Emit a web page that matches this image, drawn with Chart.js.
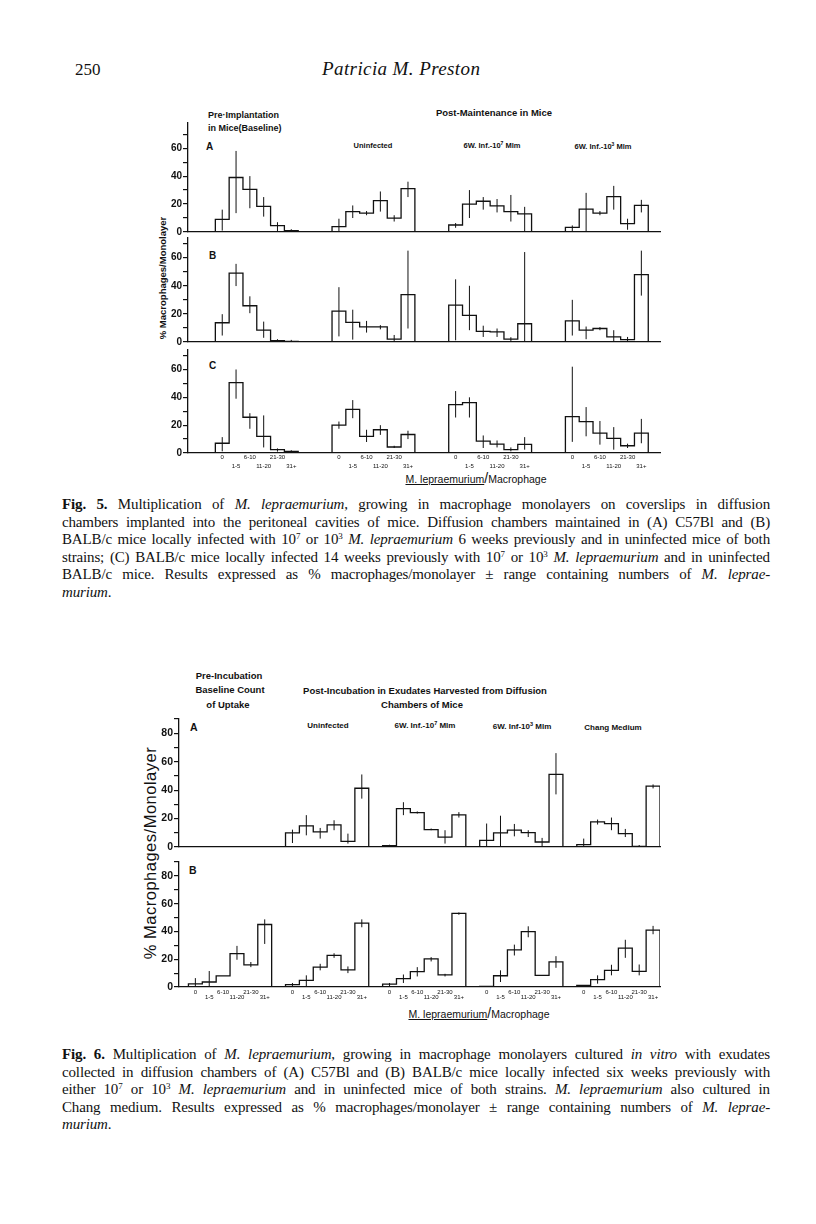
<!DOCTYPE html>
<html>
<head>
<meta charset="utf-8">
<script src="https://cdn.jsdelivr.net/npm/chart.js@4.4.0/dist/chart.umd.min.js"></script>
<style>
body { margin: 0; background: #fff; width: 816px; height: 1224px; position: relative; overflow: hidden;
       font-family: "Liberation Sans", Arial, sans-serif; color: #111; }
canvas { position: absolute; }
.t { position: absolute; white-space: nowrap; font-weight: bold; transform: translate(-50%, -50%); }
.l { position: absolute; white-space: nowrap; font-weight: bold; transform: translateY(-50%); }
.ytitle { position: absolute; white-space: nowrap; font-weight: bold; transform: translate(-50%, -50%) rotate(-90deg); }
.head { position: absolute; font-family: "Liberation Serif", "Times New Roman", serif; transform: translateY(-50%); white-space: nowrap; }
.cap { position: absolute; left: 62px; width: 708px; font-family: "Liberation Serif", "Times New Roman", serif;
       font-size: 15px; letter-spacing: -0.15px; line-height: 17.5px; color: #111; }
.cap div { text-align: justify; text-align-last: justify; }
.cap div.last { text-align-last: left; }
sup { font-size: 9px; line-height: 0; vertical-align: 5px; }
.xt { position: absolute; white-space: nowrap; transform: translate(-50%, -50%); font-size: 10.5px; }
</style>
</head>
<body>

<div class="head" style="left:75px;top:70px;font-size:17px;">250</div>
<div class="head" style="left:322px;top:69px;font-size:19px;font-style:italic;letter-spacing:0.4px;">Patricia M. Preston</div>

<!-- Fig. 5 headings -->
<div class="l" style="left:208px;top:115px;font-size:9px;">Pre·Implantation</div>
<div class="l" style="left:208px;top:128px;font-size:9px;">in Mice(Baseline)</div>
<div class="t" style="left:494px;top:112px;font-size:9.5px;">Post-Maintenance in Mice</div>
<div class="t" style="left:373px;top:145px;font-size:7.5px;">Uninfected</div>
<div class="t" style="left:492px;top:145px;font-size:7.5px;">6W. Inf.-10<sup style="font-size:5px;vertical-align:3px">7</sup> Mlm</div>
<div class="t" style="left:603px;top:146px;font-size:7.5px;">6W. Inf.-10<sup style="font-size:5px;vertical-align:3px">3</sup> Mlm</div>
<div class="l" style="left:206px;top:146px;font-size:10px;">A</div>
<div class="l" style="left:209px;top:255px;font-size:10px;">B</div>
<div class="l" style="left:209px;top:365px;font-size:10px;">C</div>
<div class="ytitle" style="left:162px;top:278px;font-size:9.5px;">% Macrophages/Monolayer</div>
<div class="xt" style="left:476px;top:478px;"><u>M. lepraemurium</u><span style="font-size:14px;">/</span>Macrophage</div>

<div class="cap" style="top:496px;">
<div><b>Fig. 5.</b> Multiplication of <i>M. lepraemurium</i>, growing in macrophage monolayers on coverslips in diffusion</div>
<div>chambers implanted into the peritoneal cavities of mice. Diffusion chambers maintained in (A) C57Bl and (B)</div>
<div>BALB/c mice locally infected with 10<sup>7</sup> or 10<sup>3</sup> <i>M. lepraemurium</i> 6 weeks previously and in uninfected mice of both</div>
<div>strains; (C) BALB/c mice locally infected 14 weeks previously with 10<sup>7</sup> or 10<sup>3</sup> <i>M. lepraemurium</i> and in uninfected</div>
<div>BALB/c mice. Results expressed as % macrophages/monolayer ± range containing numbers of <i>M. leprae-</i></div>
<div class="last"><i>murium</i>.</div>
</div>

<!-- Fig. 6 headings -->
<div class="t" style="left:229px;top:675px;font-size:9.5px;">Pre-Incubation</div>
<div class="t" style="left:230px;top:689px;font-size:9.5px;">Baseline Count</div>
<div class="t" style="left:228px;top:704px;font-size:9.5px;">of Uptake</div>
<div class="t" style="left:425px;top:690px;font-size:9.5px;">Post-Incubation in Exudates Harvested from Diffusion</div>
<div class="t" style="left:422px;top:704px;font-size:9.5px;">Chambers of Mice</div>
<div class="t" style="left:328px;top:725px;font-size:8px;">Uninfected</div>
<div class="t" style="left:425px;top:725px;font-size:8px;">6W. Inf.-10<sup style="font-size:5.5px;vertical-align:3px">7</sup> Mlm</div>
<div class="t" style="left:522px;top:726px;font-size:8px;">6W. Inf-10<sup style="font-size:5.5px;vertical-align:3px">3</sup> Mlm</div>
<div class="t" style="left:613px;top:727px;font-size:8px;">Chang Medium</div>
<div class="l" style="left:190px;top:727px;font-size:10.5px;">A</div>
<div class="l" style="left:189px;top:870px;font-size:10.5px;">B</div>
<div class="ytitle" style="left:150px;top:853px;font-size:16.5px;font-weight:normal;letter-spacing:0.5px;">% Macrophages/Monolayer</div>
<div class="xt" style="left:479px;top:1013px;"><u>M. lepraemurium</u><span style="font-size:14px;">/</span>Macrophage</div>

<div class="cap" style="top:1046px;">
<div><b>Fig. 6.</b> Multiplication of <i>M. lepraemurium</i>, growing in macrophage monolayers cultured <i>in vitro</i> with exudates</div>
<div>collected in diffusion chambers of (A) C57Bl and (B) BALB/c mice locally infected six weeks previously with</div>
<div>either 10<sup>7</sup> or 10<sup>3</sup> <i>M. lepraemurium</i> and in uninfected mice of both strains. <i>M. lepraemurium</i> also cultured in</div>
<div>Chang medium. Results expressed as % macrophages/monolayer ± range containing numbers of <i>M. leprae-</i></div>
<div class="last"><i>murium</i>.</div>
</div>

<script>
// bins of M. lepraemurium per macrophage
const bins = ['0', '1-5', '6-10', '11-20', '21-30', '31+'];

// Fig. 5 - groups: baseline, uninfected, 6W inf 10^7, 6W inf 10^3
const f5A = [
    [9, 39, 30.5, 18.4, 4.5, 1],
    [3.8, 14.6, 13.5, 22.4, 10, 31],
    [5, 20, 22, 18.7, 14.6, 13],
    [3.3, 16.3, 13.5, 25.3, 6, 19]
];
const f5A_lo = [
    [1, 13.5, 17, 11, 0.5, 0],
    [0, 10, 12, 14.6, 7.5, 25],
    [3, 10, 16, 14, 7.5, 0],
    [0, 0.5, 12, 16, 1.6, 14]
];
const f5A_hi = [
    [16, 58, 40, 25, 7, 2],
    [9.5, 19, 15, 29, 12, 36],
    [6.4, 30, 25, 23.6, 26.5, 18],
    [4.7, 28, 15, 33, 9.5, 23]
];

const f5B = [
    [13.7, 49, 25.8, 8.4, 1, 0.5],
    [22, 14, 10.8, 10.8, 2, 33.7],
    [26.3, 19, 7.5, 7.2, 2, 13],
    [15, 8.4, 9.6, 3.6, 1.7, 48]
];
const f5B_lo = [
    [4.6, 39.8, 20.5, 3, 0, 0],
    [4, 1.7, 6.7, 9, 0, 9.6],
    [1.2, 8.4, 3.6, 3.6, 0, 0],
    [4.6, 2, 8.4, 0, 0, 33]
];
const f5B_hi = [
    [19.8, 55.6, 32.5, 14.5, 2, 1.5],
    [39, 23, 15, 12, 5, 65],
    [44.6, 40, 11.6, 9.6, 3.4, 64],
    [30, 11, 10.6, 8.4, 3.6, 65]
];

const f5C = [
    [7, 50.5, 25.7, 12, 2.4, 1.2],
    [20, 31.4, 12, 16.7, 4.3, 13.3],
    [34.8, 36.2, 8.6, 6.4, 2.4, 6.2],
    [26.2, 22.6, 14.3, 10.5, 5.2, 14.3]
];
const f5C_lo = [
    [1.2, 39, 17.4, 4, 1, 0.5],
    [17.4, 25, 7.9, 13, 3.6, 10],
    [25.5, 25.5, 3.6, 4, 1.2, 2.4],
    [8, 12, 6, 2.4, 3.6, 7]
];
const f5C_hi = [
    [11.4, 60, 28.6, 27, 3.3, 2],
    [22.6, 38, 16.7, 20, 5.2, 16],
    [44.5, 40, 12.6, 9, 4, 11.4],
    [62, 33, 23, 18.6, 6.7, 24.5]
];

// Fig. 6 - groups: baseline, uninfected, 10^7, 10^3, Chang medium
const f6A = [
    [],
    [9.9, 14.8, 10.6, 15.5, 4, 41.3],
    [1, 27, 24.2, 12.2, 7, 22.6],
    [4.7, 9.9, 11.8, 10.1, 3.5, 51],
    [1.7, 17.6, 16.5, 9.4, 0.5, 42.8]
];
const f6A_lo = [
    [],
    [2.8, 8.2, 5.9, 11.8, 2.4, 34],
    [0, 22.4, 23.5, 11.8, 2.4, 20.7],
    [0, 0, 7.5, 7, 0.5, 37],
    [0, 15.8, 11.8, 7, 0, 41.2]
];
const f6A_hi = [
    [],
    [12.2, 22.4, 13.4, 18.8, 9.4, 51],
    [1.6, 31.5, 25, 13, 11.8, 24.5],
    [16.5, 22, 16.2, 11.8, 6.4, 66],
    [5.9, 19.3, 20.7, 12.7, 1.4, 44]
];

const f6B = [
    [2.2, 3.6, 8, 24, 16, 45],
    [1.7, 4.8, 14.3, 22.7, 12.4, 46],
    [2.1, 6, 11, 20.3, 8.8, 53],
    [0.5, 8.1, 26.7, 39.9, 8.4, 18.1],
    [1.2, 5.3, 12, 28, 11.2, 41]
];
const f6B_lo = [
    [0, 0, 8, 19.6, 14.3, 31],
    [0, 0, 12, 21, 10, 43],
    [0, 2.9, 7.6, 18.4, 7.6, 52],
    [0.5, 3.6, 22.7, 35.8, 8.4, 13.8],
    [1.2, 2.4, 8.4, 21, 8.4, 38]
];
const f6B_hi = [
    [6.4, 11.5, 8, 29.6, 18, 48.7],
    [2.9, 8.4, 16.7, 24.3, 14.8, 48.7],
    [2.9, 9, 14.3, 21.5, 9.5, 53.7],
    [0.5, 12, 30.5, 43.7, 8.4, 22.2],
    [1.2, 8.4, 16, 34, 16.2, 44]
];

const INK = '#111';
const Y_W = 30, PAD_T = 8, PAD_R = 6, PAD_B = 6;

// step outline of one group, left edge of bin i at start + i
function histPoints(start, vals) {
    let pts = [{ x: start, y: 0 }];
    vals.forEach((v, i) => pts.push({ x: start + i, y: v }));
    pts.push({ x: start + vals.length, y: 0 });
    return pts;
}

// range bars at bin centres, broken by nulls
function rangePoints(start, lo, hi) {
    let pts = [];
    lo.forEach((l, i) => {
        let c = start + i + 0.5;
        pts.push({ x: c, y: l }, { x: c, y: hi[i] }, { x: c, y: null });
    });
    return pts;
}

function makePanel(p) {
    let cv = document.createElement('canvas');
    let left = Math.round(p.axisX - Y_W), top = Math.round(p.plotTop - PAD_T);
    let w = Math.round(p.right + PAD_R - left);
    let h = Math.round(p.plotBottom + p.xAxisH + PAD_B - top);
    cv.width = w; cv.height = h;
    cv.style.left = left + 'px'; cv.style.top = top + 'px';
    document.body.appendChild(cv);

    let datasets = [];
    let centers = [];
    p.values.forEach((vals, g) => {
        if (!vals.length) return;
        let s = g * p.step;
        datasets.push({
            data: histPoints(s, vals), stepped: 'before', borderColor: INK,
            borderWidth: 1.3, pointRadius: 0, fill: false,
        });
        datasets.push({
            data: rangePoints(s, p.lo[g], p.hi[g]), borderColor: INK,
            borderWidth: 1, pointRadius: 0, fill: false, spanGaps: false,
        });
        vals.forEach((v, i) => centers.push(s + i + 0.5));
    });

    new Chart(cv.getContext('2d'), {
        type: 'line',
        data: { datasets: datasets },
        options: {
            responsive: false,
            animation: false,
            events: [],
            layout: { padding: { top: PAD_T, right: PAD_R, bottom: PAD_B, left: 0 } },
            plugins: { legend: { display: false }, tooltip: { enabled: false } },
            scales: {
                x: {
                    type: 'linear',
                    min: p.xmin,
                    max: p.xmax,
                    grid: { display: false, drawTicks: false, tickLength: 0 },
                    border: { display: true, color: INK, width: 1.3 },
                    afterBuildTicks: (axis) => { axis.ticks = centers.map(v => ({ value: v })); },
                    afterFit: (axis) => { axis.height = p.xAxisH; },
                    ticks: {
                        display: p.showBins,
                        autoSkip: false,
                        maxRotation: 0,
                        padding: p.binPad || 0,
                        color: INK,
                        font: { size: 6, weight: 'normal', lineHeight: p.binLine || 1 },
                        callback: (v, i) => (i % 2 ? ['', bins[i % 6]] : bins[i % 6]),
                    },
                },
                y: {
                    min: 0,
                    max: p.ymax,
                    grid: { display: true, drawOnChartArea: false, drawTicks: true, tickLength: 5, color: INK, lineWidth: 1.2 },
                    border: { display: true, color: INK, width: 1.3 },
                    afterFit: (axis) => { axis.width = Y_W; },
                    ticks: {
                        stepSize: 10,
                        includeBounds: false,
                        autoSkip: false,
                        padding: 1,
                        color: INK,
                        font: { size: p.tickSize, weight: 'bold' },
                        callback: (v) => (v % 20 === 0 && v <= p.lastLabel ? v : ''),
                    },
                },
            },
        },
    });
}

Chart.defaults.font.family = '"Liberation Sans", Arial, sans-serif';

// Fig. 5 panels
const F5X = { axisX: 188, right: 660, xmin: -1.98, xmax: 32.2, step: 8.45, tickSize: 10, lastLabel: 60 };
makePanel(Object.assign({}, F5X, { plotTop: 122.8, plotBottom: 232, ymax: 78, xAxisH: 2, showBins: false,
    values: f5A, lo: f5A_lo, hi: f5A_hi }));
makePanel(Object.assign({}, F5X, { plotTop: 238.1, plotBottom: 341.7, ymax: 74, xAxisH: 2, showBins: false,
    values: f5B, lo: f5B_lo, hi: f5B_hi }));
makePanel(Object.assign({}, F5X, { plotTop: 349.7, plotBottom: 453.3, ymax: 74, xAxisH: 20, showBins: true,
    binPad: 0, binLine: '9px', values: f5C, lo: f5C_lo, hi: f5C_hi }));

// Fig. 6 panels
const F6X = { axisX: 179.3, right: 660, xmin: -0.68, xmax: 34.0, step: 7, tickSize: 10.5, lastLabel: 80 };
makePanel(Object.assign({}, F6X, { plotTop: 719.3, plotBottom: 846.7, ymax: 90, xAxisH: 2, showBins: false,
    values: f6A, lo: f6A_lo, hi: f6A_hi }));
makePanel(Object.assign({}, F6X, { plotTop: 861.7, plotBottom: 986.7, ymax: 90, xAxisH: 16, showBins: true,
    binPad: 3, binLine: '5px', values: f6B, lo: f6B_lo, hi: f6B_hi }));
</script>
</body>
</html>
